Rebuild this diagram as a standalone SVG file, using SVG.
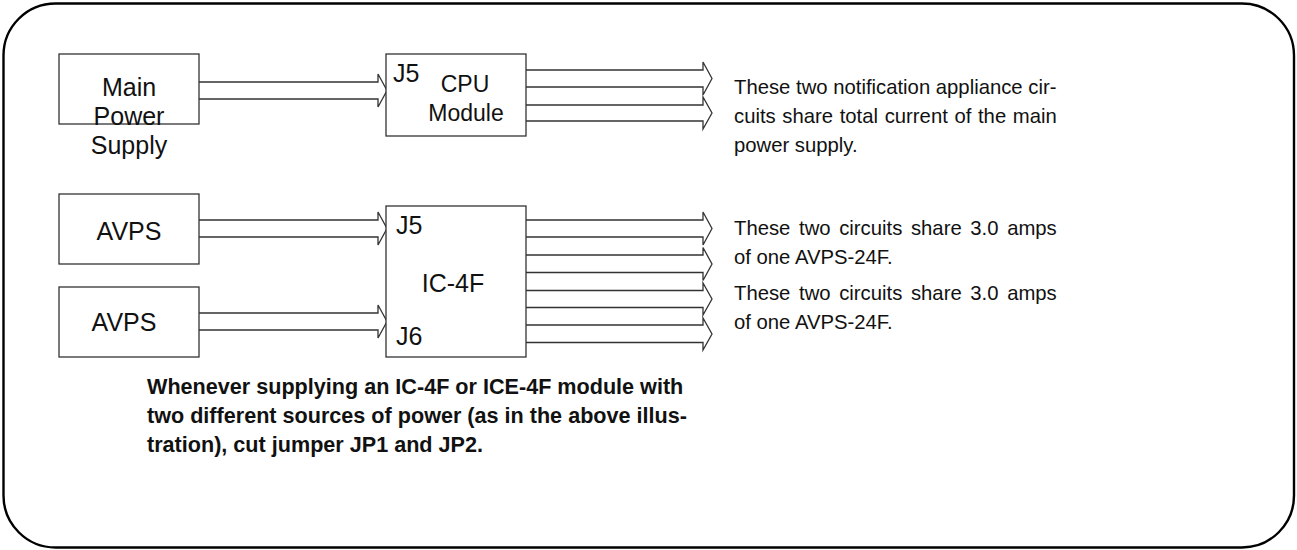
<svg xmlns="http://www.w3.org/2000/svg" width="1297" height="550" viewBox="0 0 1297 550">
<style>
.t{font-family:"Liberation Sans",Arial,sans-serif;font-size:25px;fill:#111}
.n{font-size:20.3px}
.c{text-anchor:middle}
.b{font-weight:bold;font-size:21.6px}
.box{fill:#fff;stroke:#333;stroke-width:1.3}
.arr{fill:#fff;stroke:#333;stroke-width:1.3;stroke-linejoin:miter}
</style>
<rect x="3.5" y="3.5" width="1290.5" height="544" rx="52" ry="52" fill="#fff" stroke="#000" stroke-width="2.4"/>
<g id="connectors">
<path class="arr" d="M199,82 L378,82 L378,74 L387,90.5 L378,107 L378,99 L199,99"/>
<path class="arr" d="M526,70 L703,70 L703,62 L712,78.5 L703,95 L703,87 L526,87"/>
<path class="arr" d="M526,105 L703,105 L703,97 L712,113 L703,129 L703,121 L526,121"/>
<path class="arr" d="M199,220 L378,220 L378,212 L387,228.5 L378,245 L378,237 L199,237"/>
<path class="arr" d="M199,313 L378,313 L378,305 L387,321.5 L378,338 L378,330 L199,330"/>
<path class="arr" d="M526,220 L703,220 L703,212 L712,228.5 L703,245 L703,237 L526,237"/>
<path class="arr" d="M526,255 L703,255 L703,247.5 L712,264 L703,280.5 L703,272.5 L526,272.5"/>
<path class="arr" d="M526,290.5 L703,290.5 L703,283 L712,299 L703,315 L703,307.5 L526,307.5"/>
<path class="arr" d="M526,325 L703,325 L703,318 L712,334 L703,350 L703,342.5 L526,342.5"/>
</g>
<g id="main-power-supply">
<rect class="box" x="59" y="54" width="140" height="70"/>
<text class="t c" x="129" y="96">Main</text>
<text class="t c" x="129" y="125">Power</text>
<text class="t c" x="129" y="154">Supply</text>
</g>
<g id="cpu-module">
<rect class="box" x="386" y="54" width="140" height="82"/>
<text class="t" x="393" y="82">J5</text>
<text class="t c" x="465" y="92" style="font-size:23px">CPU</text>
<text class="t c" x="466" y="121" style="font-size:23px">Module</text>
</g>
<g id="avps-1">
<rect class="box" x="59" y="194" width="140" height="70"/>
<text class="t c" x="129" y="240">AVPS</text>
</g>
<g id="avps-2">
<rect class="box" x="59" y="287" width="140" height="70"/>
<text class="t c" x="124" y="331">AVPS</text>
</g>
<g id="ic-4f">
<rect class="box" x="386" y="206" width="140" height="151"/>
<text class="t" x="396" y="234">J5</text>
<text class="t c" x="453" y="292">IC-4F</text>
<text class="t" x="396" y="345">J6</text>
</g>
<g id="note-main">
<text class="t n" x="734" y="94">These two notification appliance cir-</text>
<text class="t n" x="734" y="123" style="word-spacing:1px">cuits share total current of the main</text>
<text class="t n" x="734" y="152">power supply.</text>
</g>
<g id="note-avps-1">
<text class="t n" x="734" y="235" style="word-spacing:3px">These two circuits share 3.0 amps</text>
<text class="t n" x="734" y="264">of one AVPS-24F.</text>
</g>
<g id="note-avps-2">
<text class="t n" x="734" y="300" style="word-spacing:3px">These two circuits share 3.0 amps</text>
<text class="t n" x="734" y="329">of one AVPS-24F.</text>
</g>
<g id="note-jumper">
<text class="t b" x="147" y="394">Whenever supplying an IC-4F or ICE-4F module with</text>
<text class="t b" x="147" y="423">two different sources of power (as in the above illus-</text>
<text class="t b" x="147" y="452">tration), cut jumper JP1 and JP2.</text>
</g>
</svg>
